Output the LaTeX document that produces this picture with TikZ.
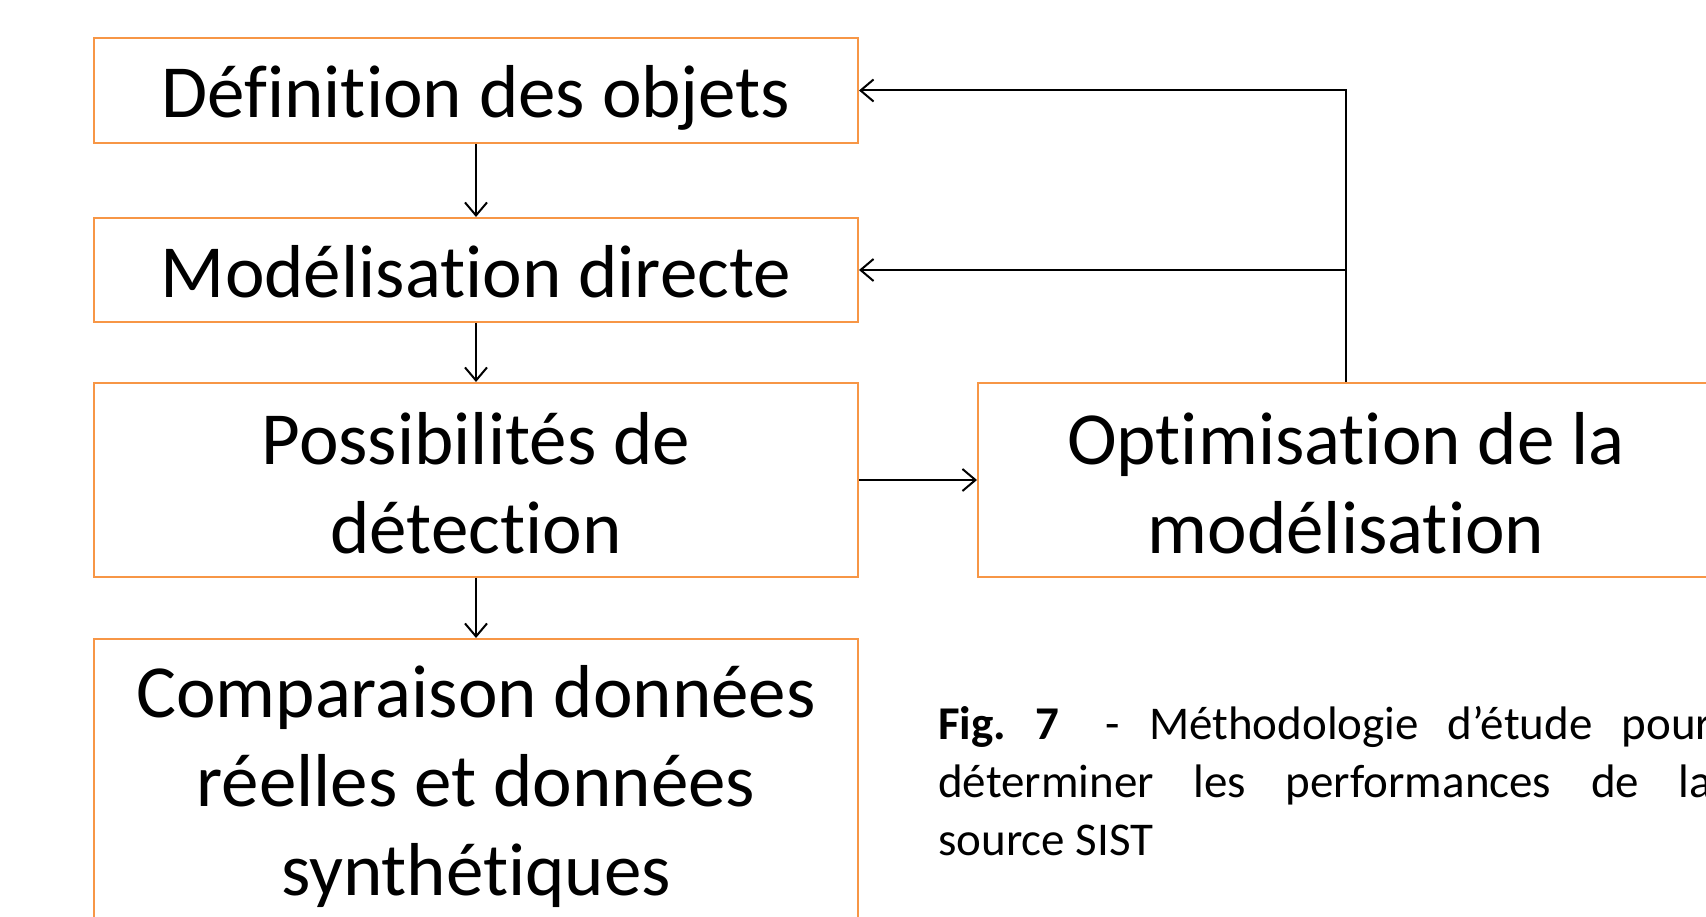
\documentclass[tikz,border=0pt]{standalone}
\usepackage{fontspec}
\setmainfont{Carlito}[Ligatures=CommonOff]
\usetikzlibrary{arrows.meta}
\definecolor{naranja}{RGB}{247,150,70}
\newcommand{\sube}{\rule{0pt}{59pt}}
\tikzset{
    caja/.style={draw=naranja, line width=2pt, minimum width=764pt, align=center, inner sep=0pt,
        font=\fontsize{75}{89}\selectfont},
    unalinea/.style={text height=55pt, text depth=0pt},
    flecha/.style={line width=2pt, ->}
}
\begin{document}
\begin{tikzpicture}[x=1pt, y=1pt, >={Straight Barb[length=13pt,width=22pt]}]
        \useasboundingbox (0,0) rectangle (1706,916);
        % Cajas de la columna izquierda
        \node[caja, unalinea, minimum height=105pt] (defin) at (476,825.5) {Définition des objets};
        \node[caja, unalinea, minimum height=104pt] (model) at (476,646) {Modélisation directe};
        \node[caja, minimum height=194pt] (detec) at (476,436) {\sube Possibilités de\\détection};
        \node[caja, minimum height=288pt] (compa) at (476,133) {\sube Comparaison données\\réelles et données\\synthétiques};
        % Caja de optimisación (cortada a la derecha)
        \node[caja, minimum width=736pt, minimum height=194pt] (optim) at (1346,436) {\sube Optimisation de la\\modélisation};
        
        % Flechas verticales
        \draw[flecha] (defin) -- (model);
        \draw[flecha] (model) -- (detec);
        \draw[flecha] (detec) -- (compa);
        \draw[flecha] (detec) -- (optim);
        
        % Retroalimentación
        \draw[flecha] (optim.north) |- (defin.east);
        \draw[flecha] (optim.north |- model.east) -- (model.east);
        
        % Leyenda
        \node[anchor=base west, text width=774pt, align=justify, inner sep=0pt,
              font=\fontsize{47}{58}\selectfont] (leyenda) at (938,176)
            {\textbf{Fig.~7}\hspace{18pt} - Méthodologie d’étude pour\linebreak déterminer les performances de la\linebreak source SIST};
    \end{tikzpicture}
\end{document}
